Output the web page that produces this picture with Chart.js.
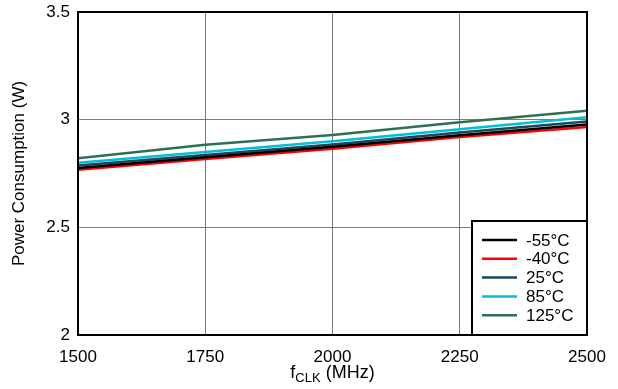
<!DOCTYPE html>
<html>
<head>
<meta charset="utf-8">
<script src="https://cdn.jsdelivr.net/npm/chart.js@4"></script>
<style>
html,body{margin:0;padding:0;background:#fff;}
#wrap{position:relative;width:618px;height:389px;}
</style>
</head>
<body>
<div id="wrap"><canvas id="c" width="618" height="389"></canvas></div>
<script>
const freqMHz = [1500, 1750, 2000, 2250, 2500];
const seriesLabels = ["-55°C", "-40°C", "25°C", "85°C", "125°C"];
const pM55 = [2.776, 2.826, 2.874, 2.928, 2.977];
const pM40 = [2.767, 2.817, 2.865, 2.919, 2.966];
const p25 = [2.787, 2.836, 2.885, 2.940, 2.992];
const p85 = [2.800, 2.850, 2.900, 2.955, 3.011];
const p125 = [2.821, 2.883, 2.929, 2.988, 3.042];
const yTicks = [2, 2.5, 3, 3.5];
const xTicks = [1500, 1750, 2000, 2250, 2500];

const colors = ["#000000", "#ff0000", "#18495c", "#00bfd6", "#2e7052"];
const seriesValues = [pM55, pM40, p25, p85, p125];

const FONT = "'Liberation Sans', Arial, sans-serif";

const datasets = seriesValues.map((vals, i) => ({
  label: seriesLabels[i],
  data: freqMHz.map((f, j) => ({x: f, y: vals[j]})),
  borderColor: colors[i],
  backgroundColor: colors[i],
  borderWidth: 2.5,
  pointRadius: 0,
  tension: 0,
  fill: false
}));

const framePlugin = {
  id: 'frame',
  afterDatasetsDraw(chart) {
    const ctx = chart.ctx, a = chart.chartArea;
    ctx.save();
    // legend box
    const lx = 472, ly = 221, lw = a.right - 472, lh = a.bottom - 221;
    ctx.fillStyle = '#fff';
    ctx.fillRect(lx, ly, lw, lh);
    ctx.strokeStyle = '#000';
    ctx.lineWidth = 2;
    ctx.strokeRect(lx, ly, lw, lh);
    ctx.font = '17px ' + FONT;
    ctx.textBaseline = 'middle';
    chart.data.datasets.forEach((ds, i) => {
      const y = 240 + i * 18.8;
      ctx.strokeStyle = ds.borderColor;
      ctx.lineWidth = 2.5;
      ctx.beginPath();
      ctx.moveTo(482, y);
      ctx.lineTo(517, y);
      ctx.stroke();
      ctx.fillStyle = '#000';
      ctx.textAlign = 'left';
      ctx.fillText(ds.label, 526, y + 1);
    });
    // plot frame
    ctx.strokeStyle = '#000';
    ctx.lineWidth = 2;
    ctx.strokeRect(a.left, a.top, a.right - a.left, a.bottom - a.top);
    // x title with subscript
    ctx.fillStyle = '#000';
    ctx.textBaseline = 'alphabetic';
    ctx.textAlign = 'left';
    const f1 = '18px ' + FONT, f2 = '13px ' + FONT;
    ctx.font = f1; const w1 = ctx.measureText('f').width;
    ctx.font = f2; const w2 = ctx.measureText('CLK').width;
    ctx.font = f1; const w3 = ctx.measureText(' (MHz)').width;
    const cx = (a.left + a.right) / 2;
    let x = cx - (w1 + w2 + w3) / 2;
    const by = 378;
    ctx.font = f1; ctx.fillText('f', x, by); x += w1;
    ctx.font = f2; ctx.fillText('CLK', x, by + 4); x += w2;
    ctx.font = f1; ctx.fillText(' (MHz)', x, by);
    ctx.restore();
  }
};

new Chart(document.getElementById('c'), {
  type: 'line',
  data: { datasets },
  options: {
    responsive: false,
    animation: false,
    devicePixelRatio: 1,
    layout: { padding: { left: 0, right: 31, top: 12, bottom: 0 } },
    plugins: { legend: { display: false }, tooltip: { enabled: false } },
    scales: {
      x: {
        type: 'linear',
        min: 1500, max: 2500,
        afterBuildTicks(s) { s.ticks = xTicks.map(v => ({value: v})); },
        afterFit(s) { s.height = 54; s.paddingLeft = 0; s.paddingRight = 0; },
        grid: { color: '#7a7a7a', lineWidth: 1, drawTicks: false },
        border: { display: false },
        ticks: { color: '#000', font: { family: FONT, size: 17 }, padding: 12, maxRotation: 0,
                 callback: v => String(v) }
      },
      y: {
        min: 2, max: 3.5,
        afterBuildTicks(s) { s.ticks = yTicks.map(v => ({value: v})); },
        afterFit(s) { s.width = 78; s.paddingTop = 0; s.paddingBottom = 0; },
        grid: { color: '#7a7a7a', lineWidth: 1, drawTicks: false },
        border: { display: false },
        title: { display: true, text: 'Power Consumption (W)', color: '#000',
                 font: { family: FONT, size: 17 }, padding: { top: 9, bottom: 4 } },
        ticks: { color: '#000', font: { family: FONT, size: 17 }, padding: 8,
                 callback: v => String(v) }
      }
    }
  },
  plugins: [framePlugin]
});
</script>
</body>
</html>
